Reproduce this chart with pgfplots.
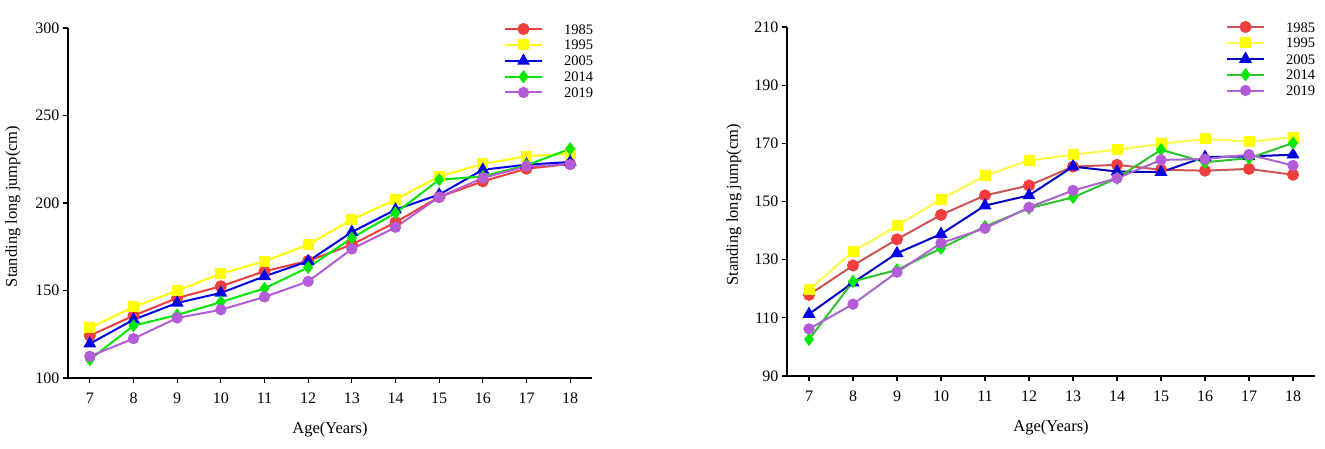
\documentclass[border=0pt]{standalone}
\usepackage{pgfplots}
\pgfplotsset{compat=1.18}
\usepackage{fontspec}
\setmainfont{Liberation Serif}

\definecolor{cR}{RGB}{240,62,62}
\definecolor{cY}{RGB}{255,255,0}
\definecolor{cB}{RGB}{0,0,230}
\definecolor{cG}{RGB}{0,232,0}
\definecolor{cP}{RGB}{180,92,215}
\definecolor{rR}{RGB}{205,85,85}
\definecolor{rY}{RGB}{250,250,70}
\definecolor{rB}{RGB}{0,0,190}
\definecolor{rG}{RGB}{45,195,45}
\definecolor{rP}{RGB}{170,100,205}

\pgfplotstableread{
age y85 y95 y05 y14 y19
7  124.2 128.6 119.6 110.5 112.4
8  135.6 140.6 133.3 129.9 122.5
9  145.7 149.9 142.9 136.0 134.3
10 152.4 159.6 148.6 143.4 139.0
11 161.0 166.7 158.1 151.2 146.3
12 166.9 176.2 166.7 163.2 155.2
13 176.2 190.5 183.4 180.0 173.7
14 189.0 201.9 196.2 194.3 186.1
15 203.4 215.2 204.8 213.3 203.4
16 212.4 222.3 219.0 215.2 214.3
17 219.6 226.7 221.9 221.5 221.0
18 222.3 228.2 223.4 231.0 222.0
}\leftdata

\pgfplotstableread{
age y85 y95 y05 y14 y19
7  117.9 119.6 111.3 102.6 106.2
8  128.0 132.8 122.1 122.5 114.7
9  137.0 141.6 132.2 126.5 125.7
10 145.4 150.8 138.8 133.9 135.7
11 152.1 158.9 148.6 141.4 140.8
12 155.5 164.1 152.1 147.7 148.0
13 162.0 166.1 162.0 151.4 153.8
14 162.6 167.8 160.3 158.0 158.0
15 160.9 169.8 160.1 167.8 164.3
16 160.6 171.5 165.3 163.5 164.6
17 161.2 170.6 165.5 164.9 166.1
18 159.2 172.1 166.1 170.1 162.4
}\rightdata

\pgfplotsset{
  jumpstyle/.style={
    scale only axis,
    xmin=6.5, xmax=18.5,
    xtick={7,8,...,18},
    axis lines=left,
    axis line style={-, line width=1.6pt, black},
    tick style={line width=1.3pt, black},
    major tick length=5pt,
    tick align=outside,
    minor tick num=0,
    /pgf/number format/assume math mode=true,
    ticklabel style={font=\fontsize{16}{18}\selectfont},
    xticklabel style={yshift=-6pt},
    label style={font=\fontsize{16.5}{19}\selectfont},
    xlabel={Age(Years)},
    ylabel={Standing long jump(cm)},
    xlabel style={at={([yshift=-52pt]axis description cs:0.5,0)}, anchor=center},
    legend cell align=left,
    legend style={draw=none, fill=none, inner sep=0pt, outer sep=0pt,
      anchor=north east,
      font=\fontsize{14.5}{16}\selectfont,
      nodes={inner sep=0pt, text height=10pt, text depth=0pt},
      row sep=5.75pt,
      /tikz/every odd column/.append style={column sep=21pt}},
    legend image code/.code={%
      \draw[mark repeat=2,mark phase=2,##1] plot coordinates {(0pt,0pt) (18.5pt,0pt) (37pt,0pt)};},
    clip=false,
  },
}

\begin{document}
\begin{tikzpicture}
\path[use as bounding box] (0,0) rectangle (1325pt,448pt);

\begin{axis}[jumpstyle,
  at={(68pt,70pt)}, anchor=south west,
  width=524pt, height=350pt,
  ymin=100, ymax=300, ytick={100,150,...,300},
  ylabel style={at={([xshift=-55pt]axis description cs:0,0.49)}, anchor=center},
  legend style={at={(1,1)}, xshift=1pt, yshift=4pt},
]
\addplot[color=cR, line width=2pt, mark=*, mark size=5pt, mark options={fill=cR, draw=cR}] table[x=age,y=y85] {\leftdata};
\addlegendentry{1985}
\addplot[color=cY, line width=2pt, mark=square*, mark size=4.5pt, mark options={fill=cY, draw=cY}] table[x=age,y=y95] {\leftdata};
\addlegendentry{1995}
\addplot[color=cB, line width=2pt, mark=triangle*, mark size=5.5pt, mark options={fill=cB, draw=cB}] table[x=age,y=y05] {\leftdata};
\addlegendentry{2005}
\addplot[color=cG, line width=2pt, mark=diamond*, mark size=5pt, mark options={fill=cG, draw=cG}] table[x=age,y=y14] {\leftdata};
\addlegendentry{2014}
\addplot[color=cP, line width=2pt, mark=*, mark size=4.6pt, mark options={fill=cP, draw=cP}] table[x=age,y=y19] {\leftdata};
\addlegendentry{2019}
\end{axis}

\begin{axis}[jumpstyle,
  at={(787pt,72pt)}, anchor=south west,
  width=528pt, height=349pt,
  ymin=90, ymax=210, ytick={90,110,...,210},
  ylabel style={at={([xshift=-53pt]axis description cs:0,0.49)}, anchor=center},
  legend style={at={(1,1)}, xshift=0pt, yshift=5pt},
]
\addplot[color=rR, line width=2pt, mark=*, mark size=5pt, mark options={fill=cR, draw=cR}] table[x=age,y=y85] {\rightdata};
\addlegendentry{1985}
\addplot[color=rY, line width=2pt, mark=square*, mark size=4.5pt, mark options={fill=cY, draw=cY}] table[x=age,y=y95] {\rightdata};
\addlegendentry{1995}
\addplot[color=rB, line width=2pt, mark=triangle*, mark size=5.5pt, mark options={fill=cB, draw=cB}] table[x=age,y=y05] {\rightdata};
\addlegendentry{2005}
\addplot[color=rG, line width=2pt, mark=diamond*, mark size=5pt, mark options={fill=cG, draw=cG}] table[x=age,y=y14] {\rightdata};
\addlegendentry{2014}
\addplot[color=rP, line width=2pt, mark=*, mark size=4.6pt, mark options={fill=cP, draw=cP}] table[x=age,y=y19] {\rightdata};
\addlegendentry{2019}
\end{axis}
\end{tikzpicture}
\end{document}
